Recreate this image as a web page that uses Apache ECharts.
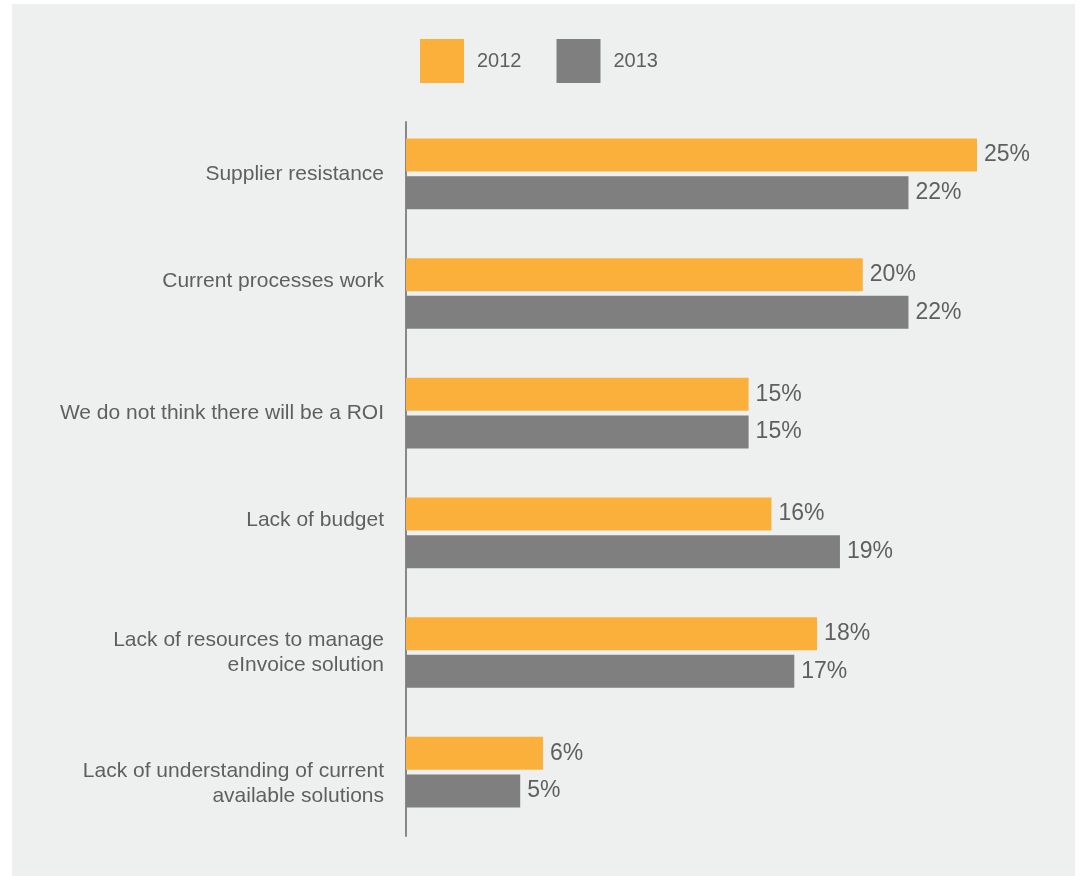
<!DOCTYPE html>
<html>
<head>
<meta charset="utf-8">
<script src="https://cdn.jsdelivr.net/npm/echarts@6/dist/echarts.min.js"></script>
<style>
html,body{margin:0;padding:0;background:#ffffff;}
#chart{width:1080px;height:876px;}
</style>
</head>
<body>
<div id="chart"></div>
<script>
const categories = [
  'Supplier resistance',
  'Current processes work',
  'We do not think there will be a ROI',
  'Lack of budget',
  'Lack of resources to manage\neInvoice solution',
  'Lack of understanding of current\navailable solutions'
];
const seriesNames = ['2012', '2013'];
const values2012 = [25, 20, 15, 16, 18, 6];
const values2013 = [22, 22, 15, 19, 17, 5];

// vertical nudge of each category label (px, negative = up), as placed in the reference
const labelNudge = [0, -12, 0, -13, 0, 12];

const FONT = '"Liberation Sans", Arial, Helvetica, sans-serif';
const TEXT = '#5f5f5f';
const LABEL_SIZE = 21;
const LABEL_LH = 25;

const chart = echarts.init(document.getElementById('chart'), null, {renderer: 'canvas'});

function barSeries(name, data, color) {
  return {
    name: name,
    type: 'bar',
    data: data,
    xAxisIndex: 0,
    yAxisIndex: 0,
    barWidth: 33,
    barGap: '14%',
    itemStyle: {color: color},
    label: {
      show: true,
      position: 'right',
      distance: 7,
      formatter: '{c}%',
      color: TEXT,
      fontFamily: FONT,
      fontSize: 23
    },
    emphasis: {disabled: true},
    animation: false
  };
}

// rich styles used to nudge labels: a spacer line of height |2n| placed above (n>0) or below (n<0)
const rich = {
  p: {color: TEXT, fontFamily: FONT, fontSize: LABEL_SIZE, lineHeight: LABEL_LH}
};
labelNudge.forEach(function (n) {
  if (n !== 0) {
    rich['s' + Math.abs(n)] = {fontSize: 1, lineHeight: 2 * Math.abs(n), color: 'transparent'};
  }
});

function labelFormatter(value, idx) {
  const n = labelNudge[idx] || 0;
  const body = String(value).split('\n').map(function (line) {
    return '{p|' + line + '}';
  }).join('\n');
  if (n === 0) return body;
  const spacer = '{s' + Math.abs(n) + '| }';
  return n > 0 ? spacer + '\n' + body : body + '\n' + spacer;
}

chart.setOption({
  backgroundColor: '#ffffff',
  animation: false,
  graphic: [{
    type: 'rect',
    z: -100,
    silent: true,
    shape: {x: 12, y: 4, width: 1063, height: 872},
    style: {fill: '#EEF0EF'}
  }],
  legend: {
    left: 415,
    top: 34,
    itemWidth: 44,
    itemHeight: 44,
    itemGap: 35,
    icon: 'rect',
    selectedMode: false,
    data: seriesNames,
    textStyle: {
      color: TEXT,
      fontFamily: FONT,
      fontSize: 20,
      padding: [0, 0, 0, 8]
    }
  },
  grid: [
    {left: 406, top: 114, width: 571, height: 718, containLabel: false},
    {left: 406, top: 122, width: 571, height: 714, containLabel: false}
  ],
  xAxis: [
    {type: 'value', gridIndex: 0, min: 0, max: 25, show: false},
    {type: 'value', gridIndex: 1, min: 0, max: 25, show: false}
  ],
  yAxis: [
    {
      type: 'category',
      gridIndex: 0,
      data: categories,
      inverse: true,
      axisLine: {show: false},
      axisTick: {show: false},
      splitLine: {show: false},
      axisLabel: {
        margin: 22,
        color: TEXT,
        fontFamily: FONT,
        fontSize: LABEL_SIZE,
        lineHeight: LABEL_LH,
        align: 'right',
        formatter: labelFormatter,
        rich: rich
      }
    },
    {
      type: 'value',
      gridIndex: 1,
      min: 0, max: 1,
      axisLine: {show: true, lineStyle: {color: '#888888', width: 2}},
      axisTick: {show: false},
      axisLabel: {show: false},
      splitLine: {show: false}
    }
  ],
  series: [
    barSeries(seriesNames[0], values2012, '#FBB03B'),
    barSeries(seriesNames[1], values2013, '#7F7F7F')
  ]
});
</script>
</body>
</html>
